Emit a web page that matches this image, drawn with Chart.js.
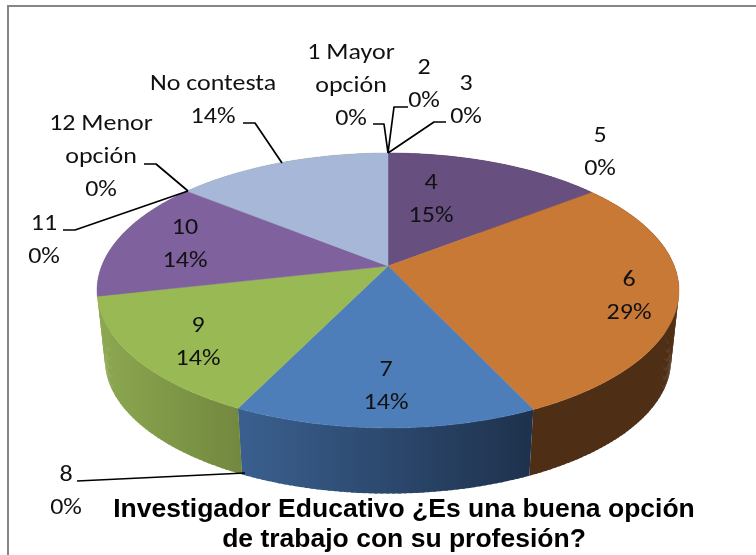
<!DOCTYPE html>
<html><head><meta charset="utf-8">
<style>html,body{margin:0;padding:0;background:#fff}canvas{display:block}</style>
<script src="https://cdn.jsdelivr.net/npm/chart.js@4/dist/chart.umd.min.js"></script>
</head><body><canvas id="c" width="756" height="555"></canvas>
<script>
const categories = ['1 Mayor opción','2','3','4','5','6','7','8','9','10','11','12 Menor opción','No contesta'];
const values = [0,0,0,14.5,0,28.5,14.25,0,14.25,14.25,0,0,14.25];
const topColors = ['#4f81bd','#c0504d','#9bbb59','#674f80','#4bacc6','#c87936','#4d7eba','#bd7a7a','#98b954','#7f619d','#c0a05d','#8ba0c8','#a7b7d7'];
const wallLeft  = ['#2f4d71','#732f2e','#5d7035','#4f2e16','#2d6777','#4f2e16','#3a5f8e','#714949','#8ba64f','#8ba64f','#736037','#53607a','#8ba64f'];
const wallRight = ['#2f4d71','#732f2e','#5d7035','#4f2e16','#2d6777','#4f2e16','#1e324d','#714949','#72883f','#8ba64f','#736037','#53607a','#8ba64f'];
const titleLines = ['Investigador Educativo ¿Es una buena opción','de trabajo con su profesión?'];

// label layout: centre x, y of first line, wrapped category lines, optional leader polyline
const labelLayout = [
 {x:351,y:52,lines:['1 Mayor','opción'],leader:[[373,124],[384,124],[388,153]]},
 {x:424,y:67,leader:[[408,107],[394,107],[388,153]]},
 {x:466,y:83,leader:[[446,122],[434,122],[388,153]]},
 {x:431,y:182},
 {x:600,y:135},
 {x:629,y:279},
 {x:386,y:369},
 {x:66,y:474,leader:[[77,481],[245,473]]},
 {x:198,y:325},
 {x:185,y:227},
 {x:44,y:223,leader:[[63,230],[75,230],[188,191]]},
 {x:101,y:123,lines:['12 Menor','opción'],leader:[[144,164],[156,164],[188,191]]},
 {x:213,y:83,leader:[[243,123],[255,123],[282,163]]}
];

const CX=388, K=0.178, AX=286.3, BY=133.1;
const TOP_Y=266, WALL_Y=336, WALL_S=0.973;
const TEXT_STRETCH=1.17, TEXT_NUDGE=1.5, LINE_GAP=32.8;
function project(theta, wall){
  const u=Math.sin(theta), v=Math.cos(theta), w=1+K*v;
  const s=wall?WALL_S:1;
  return [CX+s*AX*u/w,(wall?WALL_Y:TOP_Y)-s*BY*v/w];
}
const pie3d={
  id:'pie3d',
  beforeDraw(chart){
    const c=chart.ctx; c.save();
    c.fillStyle='#fff'; c.fillRect(0,0,756,555);
    c.strokeStyle='#868686'; c.lineWidth=2;
    c.beginPath(); c.moveTo(8,555); c.lineTo(8,6); c.lineTo(756,6); c.stroke();
    c.restore();
  },
  beforeDatasetsDraw(chart){
    const c=chart.ctx, arcs=chart.getDatasetMeta(0).data;
    c.save();
    const STEP=Math.PI/180;
    arcs.forEach((arc,i)=>{
      const a=arc.startAngle+Math.PI/2, b=arc.endAngle+Math.PI/2;
      if(b-a<1e-6) return;
      const xs=[]; for(let t=a;t<=b;t+=STEP){xs.push(project(t,true)[0]);}
      const g=c.createLinearGradient(Math.min(...xs),0,Math.max(...xs),0);
      g.addColorStop(0,wallLeft[i]); g.addColorStop(1,wallRight[i]);
      c.fillStyle=g;
      for(let t=a;t<b;t+=STEP){
        const e=Math.min(t+STEP*1.5,b);
        const p1=project(t,false),p2=project(e,false),p3=project(e,true),p4=project(t,true);
        c.beginPath();c.moveTo(...p1);c.lineTo(...p2);c.lineTo(...p3);c.lineTo(...p4);c.closePath();c.fill();
      }
    });
    arcs.forEach((arc,i)=>{
      const a=arc.startAngle+Math.PI/2, b=arc.endAngle+Math.PI/2;
      if(b-a<1e-6) return;
      c.beginPath(); c.moveTo(CX,TOP_Y);
      for(let t=a;t<b;t+=STEP/2) c.lineTo(...project(t,false));
      c.lineTo(...project(b,false)); c.closePath();
      c.fillStyle=arc.options.backgroundColor; c.strokeStyle=arc.options.backgroundColor; c.lineWidth=0.5;
      c.fill(); c.stroke();
    });
    // leaders & labels
    const total=values.reduce((s,v)=>s+v,0);
    c.strokeStyle='#000'; c.lineWidth=1.7; c.lineJoin='round';
    labelLayout.forEach(l=>{ if(!l.leader) return;
      c.beginPath(); l.leader.forEach((p,j)=>j?c.lineTo(...p):c.moveTo(...p)); c.stroke(); });
    c.fillStyle='#111'; c.textAlign='center'; c.textBaseline='middle';
    c.font='22.2px Carlito, Lato, "Open Sans", sans-serif';
    labelLayout.forEach((l,i)=>{
      const lines=(l.lines||[categories[i]]).concat(Math.round(values[i]*100/total)+'%');
      lines.forEach((t,j)=>{
        c.save();
        c.translate(l.x,l.y+TEXT_NUDGE+j*LINE_GAP);
        c.scale(TEXT_STRETCH,1);
        c.fillText(t,0,0);
        c.restore();
      });
    });
    c.restore();
    return false;
  }
};
new Chart(document.getElementById('c'),{
  type:'pie',
  data:{labels:categories,datasets:[{data:values,backgroundColor:topColors,borderWidth:0}]},
  options:{
    responsive:false,animation:false,devicePixelRatio:1,
    layout:{padding:{left:52,right:0,top:0,bottom:0}},
    plugins:{
      legend:{display:false},tooltip:{enabled:false},
      title:{display:true,position:'bottom',text:titleLines,color:'#000',
        font:{family:'"Liberation Sans", Arial, sans-serif',size:26.5,weight:'bold',lineHeight:1.13},
        padding:{top:0,bottom:0}}
    }
  },
  plugins:[pie3d]
});
</script></body></html>
